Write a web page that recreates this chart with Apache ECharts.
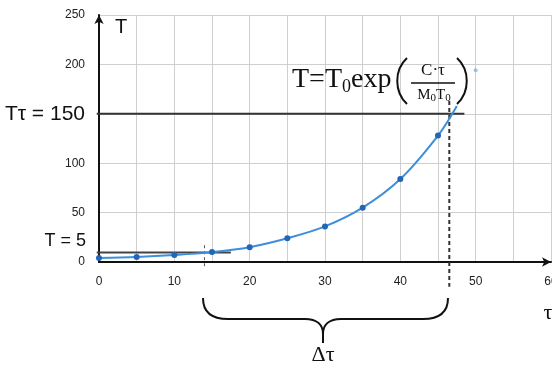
<!DOCTYPE html>
<html><head><meta charset="utf-8">
<script src="https://cdn.jsdelivr.net/npm/echarts@6/dist/echarts.min.js"></script>
<style>html,body{margin:0;padding:0;background:#fff}#c{width:552px;height:371px}</style>
</head><body><div id="c"></div>
<script>
// Data
const tauPoints = [0, 5, 10, 15, 20, 25, 30, 35, 40, 45];
const tempPoints = [4, 5, 7, 10, 15, 24, 36, 55, 84, 128];
const curveEnd = [47.5, 158];          // end of drawn curve (no marker)
const extraTau = [50];
const extraTemp = [194];               // stray light point
const xTicks = [0, 10, 20, 30, 40, 50, 60];
const yTicks = [0, 50, 100, 200, 250]; // 150 is replaced by the "Tτ = 150" label
const tauLevel = 150;                  // Tτ = 150 line
const startLevel = 9.5;                // T = 5 line
const tauEnd = 46.5;                   // dashed vertical at τ end
const tauStart = 14;                   // dashed vertical at τ start

const chart = echarts.init(document.getElementById('c'), null, {renderer: 'canvas'});
const curve = tauPoints.map((t, i) => [t, tempPoints[i]]);
curve.push(curveEnd);

const ink = {stroke: '#111', lineWidth: 2, fill: null};
function bez(x1, y1, c1x, c1y, c2x, c2y, x2, y2, st) {
  return {type: 'bezierCurve', shape: {x1, y1, cpx1: c1x, cpy1: c1y, cpx2: c2x, cpy2: c2y, x2, y2}, style: st || ink};
}
function seg(x1, y1, x2, y2, st) {
  return {type: 'line', shape: {x1, y1, x2, y2}, style: st || ink};
}

const baseGraphic = [
  {type: 'text', x: 115, y: 17, style: {text: 'T', font: '20px "Liberation Sans"', fill: '#111'}},
  {type: 'text', x: 85, y: 114, style: {text: 'Tτ = 150', font: '21px "Liberation Sans"', fill: '#111', align: 'right', verticalAlign: 'middle'}},
  {type: 'text', x: 86, y: 241, style: {text: 'T = 5', font: '18px "Liberation Sans"', fill: '#111', align: 'right', verticalAlign: 'middle'}},
  {type: 'text', x: 548, y: 313, style: {text: 'τ', font: '22px "Liberation Serif"', fill: '#111', align: 'center', verticalAlign: 'middle'}},
  {type: 'text', x: 323, y: 355, style: {text: 'Δτ', font: '22px "Liberation Serif"', fill: '#111', align: 'center', verticalAlign: 'middle'}},
  {type: 'text', x: 292, y: 80, style: {
    text: '{a|T=T}{s|0}{a|exp}', align: 'left', verticalAlign: 'middle', fill: '#111',
    rich: {a: {font: '28px "Liberation Serif"', fill: '#111'}, s: {font: '18px "Liberation Serif"', fill: '#111', padding: [14, 0, 0, 0]}}
  }},
  {type: 'text', x: 433, y: 71, style: {text: 'C·τ', font: '17px "Liberation Serif"', fill: '#111', align: 'center', verticalAlign: 'middle'}},
  {type: 'text', x: 434, y: 95, style: {
    text: '{a|M}{s|0}{a|T}{s|0}', align: 'center', verticalAlign: 'middle', fill: '#111',
    rich: {a: {font: '15px "Liberation Serif"', fill: '#111'}, s: {font: '11px "Liberation Serif"', fill: '#111', padding: [6, 0, 0, 0]}}
  }},
  seg(411, 83, 455, 83, {stroke: '#111', lineWidth: 1.5}),
  bez(407, 58, 394, 70, 394, 92, 407, 104),
  bez(457, 58, 470, 70, 470, 92, 457, 104),
  bez(203, 298, 203, 312, 212, 319, 228, 319),
  seg(228, 319, 305, 319),
  bez(305, 319, 317, 319, 323, 325, 323, 334),
  bez(323, 334, 323, 325, 329, 319, 341, 319),
  seg(341, 319, 423, 319),
  bez(423, 319, 439, 319, 448, 312, 448, 298),
  seg(323, 333, 323, 343)
];

chart.setOption({
  animation: false,
  backgroundColor: '#fff',
  grid: {left: 99, right: 1, top: 15, bottom: 109, outerBoundsMode: 'none', containLabel: false},
  xAxis: {
    type: 'value', min: 0, max: 60, interval: 5,
    axisLine: {show: true, symbol: ['none', 'arrow'], symbolSize: [7, 9], lineStyle: {color: '#111', width: 2}},
    axisTick: {show: false},
    splitLine: {show: true, lineStyle: {color: '#cfcfcf', width: 1}},
    axisLabel: {margin: 14, fontSize: 12, color: '#222', fontFamily: 'Liberation Sans', hideOverlap: false,
      formatter: v => xTicks.indexOf(v) >= 0 ? String(v) : ''}
  },
  yAxis: {
    type: 'value', min: 0, max: 250, interval: 50,
    axisLine: {show: true, onZero: false, symbol: ['none', 'arrow'], symbolSize: [7, 9], lineStyle: {color: '#111', width: 2}},
    axisTick: {show: false},
    splitLine: {show: true, lineStyle: {color: '#cfcfcf', width: 1}},
    axisLabel: {margin: 14, fontSize: 12, color: '#222', fontFamily: 'Liberation Sans',
      formatter: v => yTicks.indexOf(v) >= 0 ? String(v) : ''}
  },
  series: [
    {
      type: 'line', data: curve, smooth: 0.35, clip: false, z: 3,
      lineStyle: {color: '#3d8fdc', width: 2},
      symbol: 'circle', symbolSize: (v, p) => p.dataIndex < tauPoints.length ? 6 : 0,
      itemStyle: {color: '#2266b8'}
    },
    {
      type: 'scatter', data: extraTau.map((t, i) => [t, extraTemp[i]]),
      symbolSize: 4, itemStyle: {color: '#7ab8ec'}
    }
  ],
  graphic: baseGraphic
});

// Reference lines placed through the chart's own scales
const px = (x, y) => chart.convertToPixel({gridIndex: 0}, [x, y]);
function dataSeg(a, b, st) {
  const p = px(a[0], a[1]), q = px(b[0], b[1]);
  return Object.assign(seg(p[0], p[1], q[0], q[1], st), {z: 1});
}
const refLines = [
  dataSeg([-0.3, tauLevel], [48.5, tauLevel], {stroke: '#333', lineWidth: 2}),
  dataSeg([-0.3, startLevel], [17.5, startLevel], {stroke: '#444', lineWidth: 2}),
  dataSeg([tauEnd, 163], [tauEnd, -25], {stroke: '#333', lineWidth: 2, lineDash: [4, 3]}),
  dataSeg([tauStart, 17], [tauStart, -6], {stroke: '#555', lineWidth: 1, lineDash: [3, 3]})
];
chart.setOption({graphic: baseGraphic.concat(refLines)}, {replaceMerge: ['graphic']});
</script>
</body></html>
